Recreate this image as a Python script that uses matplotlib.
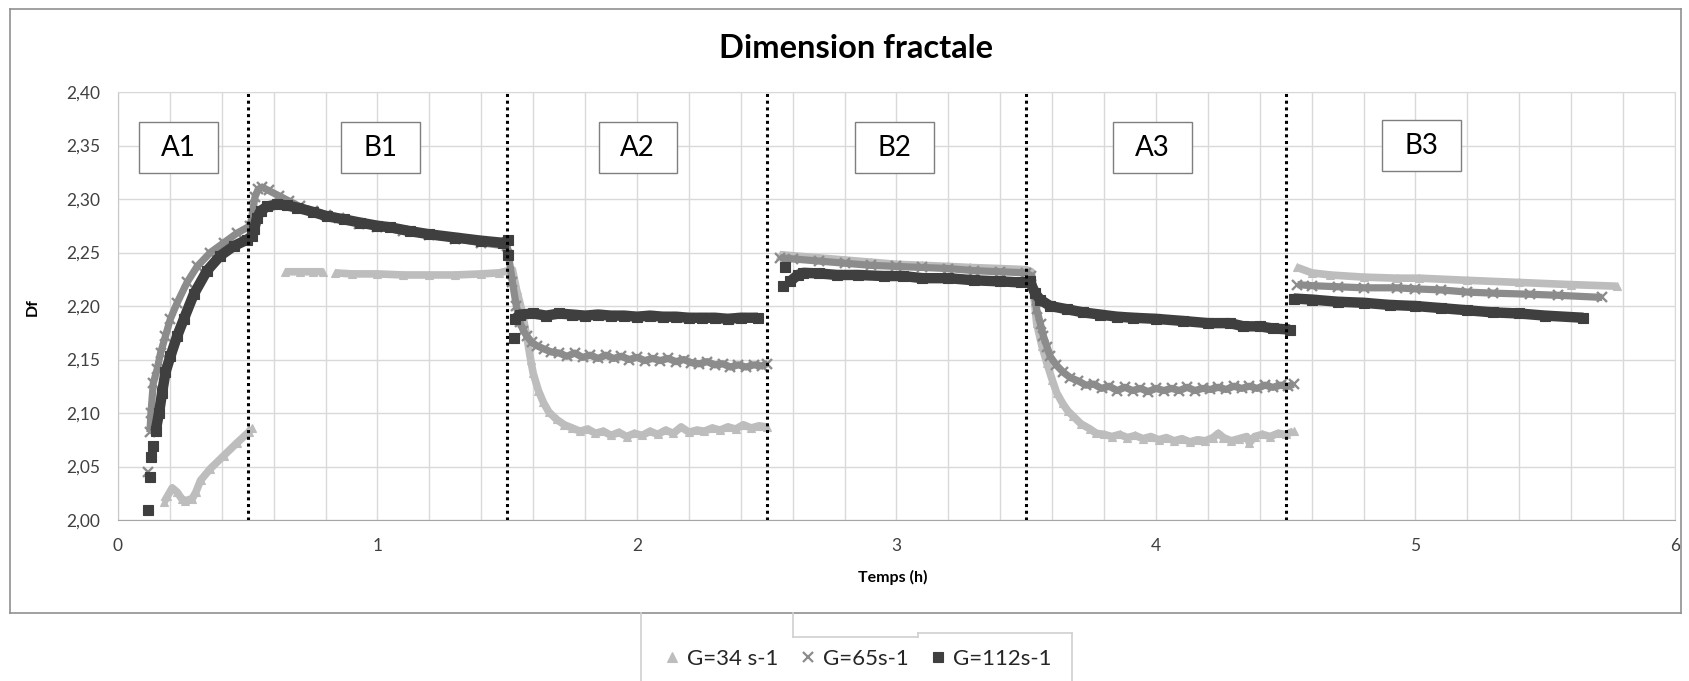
import matplotlib
matplotlib.use("Agg")
import matplotlib.pyplot as plt
from matplotlib.patches import Rectangle
from matplotlib.lines import Line2D
from matplotlib.ticker import FixedLocator, FuncFormatter

nan = float("nan")

# ---- measured fractal dimension (Df) versus time (h); nan separates phases ----
t_34 = [0.177, 0.19, 0.209, 0.228, 0.245, 0.26, 0.286, 0.30, 0.318, 0.356, 0.407, 0.458, 0.503, 0.516, nan,
        0.644, 0.70, 0.75, 0.791, nan,
        0.836, 0.9, 1.0, 1.1, 1.2, 1.3, 1.4, 1.47, 1.52,
        1.536, 1.555, 1.575, 1.59, 1.60, 1.62, 1.639, 1.66, 1.69, 1.72, 1.75, 1.78, 1.81, 1.84, 1.87, 1.90,
        1.93, 1.96, 1.99, 2.02, 2.05, 2.08, 2.11, 2.14, 2.17, 2.20, 2.23, 2.26, 2.29, 2.32, 2.35, 2.38, 2.41,
        2.44, 2.47, 2.50, nan,
        2.551, 2.6, 2.7, 2.8, 2.9, 3.0, 3.1, 3.2, 3.283, 3.4, 3.5, 3.52,
        3.54, 3.56, 3.579, 3.60, 3.617, 3.64, 3.66, 3.681, 3.71, 3.746, 3.77, 3.80, 3.83, 3.86, 3.89, 3.92,
        3.95, 3.98, 4.01, 4.04, 4.07, 4.10, 4.13, 4.16, 4.19, 4.22, 4.24, 4.26, 4.29, 4.32, 4.35, 4.36, 4.38,
        4.41, 4.44, 4.47, 4.50, 4.53, nan,
        4.545, 4.6, 4.671, 4.8, 4.928, 5.015, 5.2, 5.4, 5.6, 5.775]
df_34 = [2.0165, 2.022, 2.030, 2.026, 2.020, 2.018, 2.020, 2.026, 2.037, 2.048, 2.060, 2.072, 2.082, 2.086, nan,
         2.232, 2.232, 2.232, 2.232, nan,
         2.231, 2.230, 2.230, 2.229, 2.229, 2.229, 2.230, 2.231, 2.234,
         2.215, 2.197, 2.172, 2.150, 2.137, 2.121, 2.110, 2.101, 2.094, 2.089, 2.086, 2.083, 2.085, 2.081,
         2.083, 2.079, 2.082, 2.078, 2.081, 2.079, 2.083, 2.080, 2.084, 2.081, 2.087, 2.082, 2.084, 2.083,
         2.086, 2.084, 2.087, 2.085, 2.089, 2.086, 2.088, 2.087, nan,
         2.248, 2.247, 2.245, 2.243, 2.241, 2.239, 2.238, 2.237, 2.236, 2.235, 2.234, 2.232,
         2.184, 2.163, 2.147, 2.131, 2.119, 2.109, 2.102, 2.097, 2.090, 2.085, 2.081, 2.080, 2.078, 2.080,
         2.077, 2.079, 2.076, 2.078, 2.075, 2.077, 2.074, 2.076, 2.073, 2.075, 2.074, 2.077, 2.081, 2.077,
         2.074, 2.076, 2.078, 2.072, 2.078, 2.080, 2.078, 2.081, 2.080, 2.083, nan,
         2.236, 2.231, 2.229, 2.227, 2.226, 2.226, 2.224, 2.222, 2.220, 2.2185]

t_65 = [0.115, nan, 0.123, 0.127, 0.136, 0.151, 0.164, 0.183, 0.202, 0.228, 0.266, 0.305, 0.356, 0.407, 0.458, 0.510,
        0.528, 0.54, 0.555, 0.58, 0.62, 0.66, 0.70, 0.75, 0.80, 0.85, 0.93, 1.0, 1.1, 1.2, 1.3, 1.4, 1.5,
        1.52, 1.535, 1.549, 1.562, 1.575, 1.595, 1.613, 1.64, 1.67, 1.70, 1.73, 1.76, 1.79, 1.82, 1.85, 1.88,
        1.91, 1.94, 1.97, 2.00, 2.03, 2.06, 2.09, 2.12, 2.15, 2.18, 2.21, 2.24, 2.27, 2.30, 2.33, 2.36, 2.39,
        2.42, 2.45, 2.48, 2.50, nan,
        2.551, 2.6, 2.7, 2.8, 2.9, 3.0, 3.1, 3.2, 3.3, 3.4, 3.5, 3.52,
        3.54, 3.555, 3.566, 3.58, 3.592, 3.615, 3.643, 3.67, 3.70, 3.73, 3.76, 3.79, 3.82, 3.85, 3.88, 3.91,
        3.94, 3.97, 4.00, 4.03, 4.06, 4.09, 4.12, 4.15, 4.18, 4.21, 4.24, 4.27, 4.30, 4.33, 4.36, 4.39, 4.42,
        4.45, 4.48, 4.51, 4.53, nan,
        4.545, 4.6, 4.7, 4.8, 4.928, 5.0, 5.1, 5.2, 5.3, 5.44, 5.55, 5.72]
df_65 = [2.045, nan, 2.082, 2.100, 2.128, 2.141, 2.156, 2.172, 2.188, 2.203, 2.222, 2.237, 2.250, 2.259, 2.268, 2.275,
         2.302, 2.309, 2.311, 2.308, 2.303, 2.298, 2.293, 2.289, 2.285, 2.282, 2.277, 2.274, 2.270, 2.266, 2.263,
         2.259, 2.256,
         2.222, 2.200, 2.185, 2.177, 2.172, 2.166, 2.163, 2.160, 2.157, 2.156, 2.153, 2.156, 2.152, 2.154, 2.151,
         2.154, 2.151, 2.153, 2.150, 2.152, 2.149, 2.151, 2.149, 2.151, 2.148, 2.150, 2.147, 2.146, 2.148, 2.145,
         2.146, 2.143, 2.145, 2.143, 2.145, 2.144, 2.146, nan,
         2.245, 2.244, 2.242, 2.240, 2.238, 2.237, 2.236, 2.235, 2.233, 2.232, 2.231, 2.228,
         2.197, 2.183, 2.172, 2.162, 2.153, 2.145, 2.138, 2.133, 2.130, 2.126, 2.127, 2.123, 2.125, 2.121, 2.124,
         2.121, 2.123, 2.120, 2.123, 2.121, 2.123, 2.121, 2.124, 2.121, 2.123, 2.122, 2.124, 2.122, 2.125, 2.123,
         2.125, 2.123, 2.126, 2.124, 2.126, 2.125, 2.127, nan,
         2.220, 2.219, 2.218, 2.217, 2.217, 2.216, 2.215, 2.213, 2.212, 2.211, 2.210, 2.208]

t_112 = [0.115, nan, 0.123, nan, 0.128, nan, 0.134, nan,
         0.145, 0.158, 0.170, 0.183, 0.202, 0.228, 0.254, 0.292, 0.343, 0.394, 0.446, 0.497, 0.515,
         0.525, 0.535, 0.55, 0.575, 0.612, 0.65, 0.689, 0.75, 0.804, 0.87, 0.932, 1.0, 1.05, 1.124, 1.2, 1.3,
         1.4, 1.485, 1.503, nan, 1.503, nan,
         1.526, nan,
         1.53, 1.55, 1.6, 1.65, 1.7, 1.75, 1.8, 1.85, 1.9, 1.95, 2.0, 2.05, 2.1, 2.15, 2.2, 2.25, 2.3, 2.35,
         2.4, 2.466, nan,
         2.561, nan, 2.570, nan,
         2.59, 2.62, 2.641, 2.7, 2.77, 2.85, 2.95, 3.026, 3.1, 3.2, 3.3, 3.4, 3.48, nan,
         3.514, 3.534, 3.553, 3.592, 3.656, 3.72, 3.784, 3.85, 3.913, 4.0, 4.105, 4.2, 4.285, 4.337, 4.4,
         4.45, 4.516, nan,
         4.53, 4.6, 4.7, 4.8, 4.9, 5.0, 5.1, 5.2, 5.3, 5.4, 5.5, 5.647]
df_112 = [2.009, nan, 2.040, nan, 2.059, nan, 2.069, nan,
          2.083, 2.100, 2.119, 2.138, 2.153, 2.172, 2.188, 2.211, 2.233, 2.247, 2.256, 2.262, 2.265,
          2.272, 2.282, 2.289, 2.293, 2.295, 2.294, 2.292, 2.288, 2.284, 2.281, 2.278, 2.275, 2.2735, 2.270,
          2.267, 2.264, 2.261, 2.259, 2.262, nan, 2.248, nan,
          2.170, nan,
          2.188, 2.192, 2.193, 2.191, 2.193, 2.192, 2.191, 2.192, 2.191, 2.191, 2.190, 2.191, 2.190, 2.190,
          2.189, 2.189, 2.189, 2.188, 2.189, 2.189, nan,
          2.219, nan, 2.236, nan,
          2.223, 2.229, 2.231, 2.2305, 2.229, 2.229, 2.228, 2.228, 2.226, 2.226, 2.224, 2.223, 2.222, nan,
          2.223, 2.212, 2.206, 2.200, 2.197, 2.194, 2.192, 2.190, 2.189, 2.188, 2.186, 2.184, 2.184, 2.181,
          2.181, 2.179, 2.178, nan,
          2.207, 2.206, 2.204, 2.203, 2.201, 2.200, 2.198, 2.196, 2.194, 2.193, 2.191, 2.189]

series_labels = ["G=34 s-1", "G=65s-1", "G=112s-1"]
series_colors = ["#bdbdbd", "#8c8c8c", "#3f3f3f"]
series_markers = ["^", "x", "s"]

phase_bounds = [0.5, 1.5, 2.5, 3.5, 4.5]
phase_labels = ["A1", "B1", "A2", "B2", "A3", "B3"]
phase_label_x = [0.233, 1.012, 2.003, 2.993, 3.987, 5.023]
phase_label_y = [2.348, 2.348, 2.348, 2.348, 2.348, 2.350]

x_ticks = [0, 1, 2, 3, 4, 5, 6]
y_ticks = [2.00, 2.05, 2.10, 2.15, 2.20, 2.25, 2.30, 2.35, 2.40]

plt.rcParams["font.family"] = ["Lato", "DejaVu Sans"]

W, H = 1690, 681
fig = plt.figure(figsize=(W / 100, H / 100), dpi=100)
fig.patch.set_facecolor("white")

ax = fig.add_axes([118 / W, 1 - 520 / H, (1675 - 118) / W, (520 - 92) / H])
ax.set_xlim(0, 6)
ax.set_ylim(2.0, 2.4)

grid_color = "#d9d9d9"
ax.xaxis.set_major_locator(FixedLocator(x_ticks))
ax.xaxis.set_minor_locator(FixedLocator([i * 0.2 for i in range(31)]))
ax.yaxis.set_major_locator(FixedLocator(y_ticks))
ax.yaxis.set_major_formatter(FuncFormatter(lambda v, p: f"{v:.2f}".replace(".", ",")))
ax.grid(which="both", axis="x", color=grid_color, lw=1)
ax.grid(which="major", axis="y", color=grid_color, lw=1)
ax.set_axisbelow(True)
ax.tick_params(which="both", length=0)
ax.tick_params(axis="y", labelsize=12.5, pad=13, colors="#404040")
ax.tick_params(axis="x", labelsize=12.5, pad=13, colors="#404040")
for side in ["top", "right"]:
    ax.spines[side].set_color(grid_color)
ax.spines["left"].set_color("#c8c8c8")
ax.spines["bottom"].set_color("#a6a6a6")

# data bands (dense markers joined into thick strokes)
series = [(t_34, df_34, 5.5, 5.5), (t_65, df_65, 5.2, 6.5), (t_112, df_112, 7.5, 7)]
handles = []
for (t, d, lw, ms), lab, col, mk in zip(series, series_labels, series_colors, series_markers):
    ax.plot(t, d, color=col, lw=lw, solid_joinstyle="round", solid_capstyle="butt", zorder=2)
    ax.plot(t, d, linestyle="none", marker=mk, color=col, markersize=ms,
            markeredgewidth=1.7 if mk == "x" else 0.8, zorder=2)
    handles.append(Line2D([], [], linestyle="none", marker=mk, color=col,
                          markersize=7, markeredgewidth=1.6 if mk == "x" else 0.8, label=lab))

# phase boundaries
for xb in phase_bounds:
    ax.axvline(xb, color="black", lw=2.2, linestyle=(0, (1, 1.2)), zorder=5)

# phase labels in boxes
box_w, box_h = 0.302, 0.048
for lab, xc, yc in zip(phase_labels, phase_label_x, phase_label_y):
    ax.add_patch(Rectangle((xc - box_w / 2, yc - box_h / 2), box_w, box_h, facecolor="white",
                           edgecolor="#7f7f7f", lw=1.0, zorder=3))
    ax.text(xc, yc, lab, ha="center", va="center", fontsize=20, color="black", zorder=4)

ax.set_ylabel("Df", fontsize=11.5, fontweight="bold")
ax.yaxis.set_label_coords((40 - 118) / (1675 - 118), (520 - 307) / (520 - 92))
fig.text(893 / W, 1 - 577 / H, "Temps (h)", ha="center", va="center", fontsize=11.5, fontweight="bold")
fig.text(856 / W, 1 - 49 / H, "Dimension fractale", ha="center", va="center", fontsize=23.5,
         fontweight="bold")

# chart frame and legend outline
def px_line(x0, y0, x1, y1, color="#909090", lw=1.2):
    fig.add_artist(Line2D([x0 / W, x1 / W], [1 - y0 / H, 1 - y1 / H], transform=fig.transFigure,
                          color=color, lw=lw))

px_line(10, 9, 1681, 9)
px_line(10, 9, 10, 613)
px_line(1681, 9, 1681, 613)
px_line(10, 613, 1681, 613)
leg_c = "#d0d0d0"
px_line(641, 613, 641, 681, leg_c)
px_line(793, 613, 793, 637, leg_c)
px_line(793, 637, 918, 637, leg_c)
px_line(918, 637, 918, 633, leg_c)
px_line(918, 633, 1072, 633, leg_c)
px_line(1072, 633, 1072, 681, leg_c)

fig.legend(handles=handles, loc="center", bbox_to_anchor=(858 / W, 1 - 659 / H), ncol=3, frameon=False,
           fontsize=16, handlelength=0.7, handletextpad=0.3, columnspacing=1.0, labelcolor="#262626")

fig.savefig("out.png", dpi=100)
